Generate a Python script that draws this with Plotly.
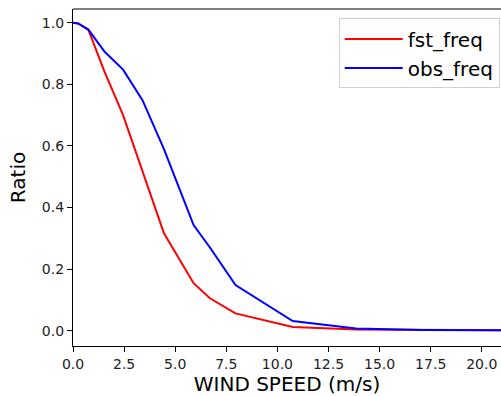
import plotly.graph_objects as go

# Wind speed bins (m/s) and cumulative exceedance ratios
wind_speed = [0.0, 0.25, 0.75, 1.55, 2.45, 3.4, 4.45, 5.9, 6.7, 7.95, 10.75, 13.85, 17.1, 20.7, 24.4]
fst_freq = [1.0, 0.998, 0.978, 0.84, 0.70, 0.515, 0.316, 0.154, 0.105, 0.056, 0.012, 0.004, 0.001, 0.0, 0.0]
obs_freq = [1.0, 0.998, 0.978, 0.906, 0.848, 0.749, 0.59, 0.343, 0.27, 0.148, 0.031, 0.007, 0.002, 0.001, 0.0]

x_ticks = [0.0, 2.5, 5.0, 7.5, 10.0, 12.5, 15.0, 17.5, 20.0]
y_ticks = [0.0, 0.2, 0.4, 0.6, 0.8, 1.0]

FONT = "DejaVu Sans"

fig = go.Figure()
fig.add_trace(go.Scatter(x=wind_speed, y=fst_freq, mode="lines", name="fst_freq",
                         line=dict(color="#ff0000", width=2)))
fig.add_trace(go.Scatter(x=wind_speed, y=obs_freq, mode="lines", name="obs_freq",
                         line=dict(color="#0000ff", width=2)))

axis_common = dict(
    showline=True, linecolor="black", linewidth=1.2,
    ticks="outside", ticklen=5, tickwidth=1, tickcolor="black",
    showgrid=False, zeroline=False, mirror=False,
    tickfont=dict(family=FONT, size=14, color="#222222"),
)

fig.update_layout(
    width=501, height=396,
    margin=dict(l=73, r=0, t=9, b=50),
    paper_bgcolor="white", plot_bgcolor="white",
    font=dict(family=FONT, color="black"),
    xaxis=dict(range=[0, 20.94], tickvals=x_ticks, tickformat=".1f",
               title=dict(text="WIND SPEED (m/s)", font=dict(family=FONT, size=20), standoff=6),
               **axis_common),
    yaxis=dict(range=[-0.05, 1.045], tickvals=y_ticks, tickformat=".1f",
               title=dict(text="Ratio", font=dict(family=FONT, size=20), standoff=10),
               **axis_common),
    legend=dict(x=0.997, y=0.972, xanchor="right", yanchor="top",
                bgcolor="white", bordercolor="#d0d0d0", borderwidth=1,
                itemwidth=58,
                font=dict(family=FONT, size=20), tracegroupgap=0),
    shapes=[dict(type="line", xref="paper", yref="paper", x0=0, x1=1, y0=1, y1=1,
                 line=dict(color="black", width=1.2))],
)

fig.write_html("out.html")
